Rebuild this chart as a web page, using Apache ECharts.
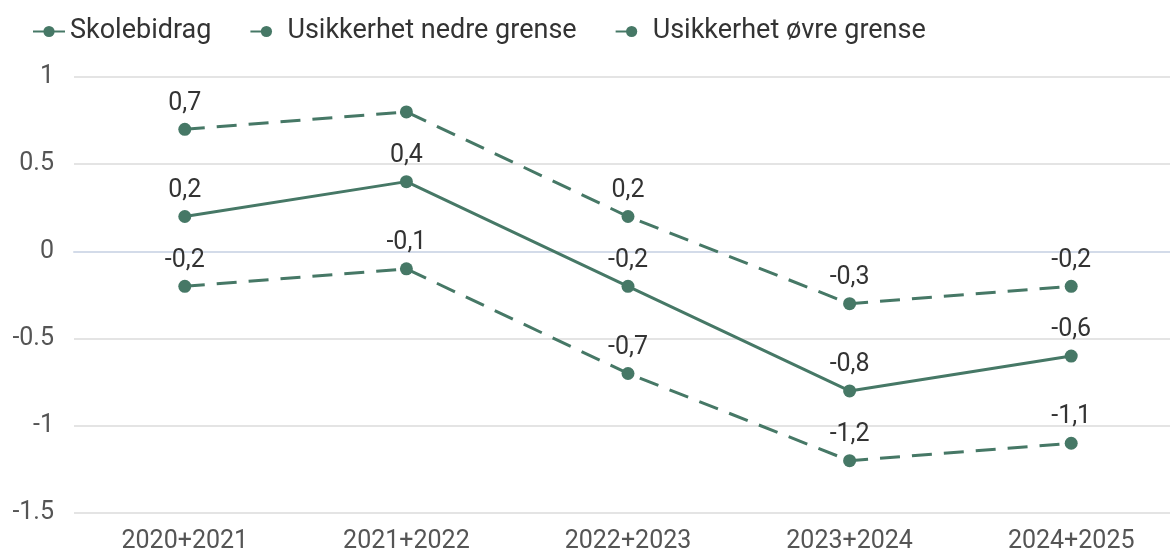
<!DOCTYPE html>
<html>
<head>
<meta charset="utf-8">
<script src="https://cdn.jsdelivr.net/npm/echarts@6/dist/echarts.min.js"></script>
<style>
  html, body { margin: 0; padding: 0; background: #fff; overflow: hidden; }
  #chart { width: 1182px; height: 554px; }
</style>
</head>
<body>
<div id="chart"></div>
<script>
// Periods (two-year school averages)
const categories = ['2020+2021', '2021+2022', '2022+2023', '2023+2024', '2024+2025'];

// School contribution and its uncertainty interval
const skolebidrag = [0.2, 0.4, -0.2, -0.8, -0.6];
const nedreGrense = [-0.2, -0.1, -0.7, -1.2, -1.1];
const ovreGrense = [0.7, 0.8, 0.2, -0.3, -0.2];
// The upper bound's value label is not shown for this period
const ovreSkjultEtikett = [1];

const seriesNames = ['Skolebidrag', 'Usikkerhet nedre grense', 'Usikkerhet øvre grense'];

const COLOR = '#467866';
const FONT = 'Roboto';
const fmt = v => String(v).replace('.', ',');

function makeSeries(name, values, dashed, hidden) {
  return {
    name: name,
    type: 'line',
    data: values.map((v, i) => hidden && hidden.includes(i)
      ? { value: v, label: { show: false } }
      : v),
    symbol: 'circle',
    symbolSize: 13,
    itemStyle: { color: COLOR },
    lineStyle: { color: COLOR, width: 3, type: dashed ? [20, 12] : 'solid' },
    label: {
      show: true,
      position: 'top',
      distance: 7,
      color: '#333',
      fontSize: 25,
      fontFamily: FONT,
      formatter: p => fmt(p.value)
    },
    emphasis: { disabled: true },
    animation: false
  };
}

const chart = echarts.init(document.getElementById('chart'));
chart.setOption({
  backgroundColor: '#fff',
  textStyle: { fontFamily: FONT },
  legend: {
    top: 13,
    left: 27,
    itemWidth: 32,
    itemHeight: 14,
    itemGap: 38,
    textStyle: { fontSize: 27, color: '#333', fontFamily: FONT },
    data: seriesNames
  },
  grid: { left: 74, right: 0, top: 77, bottom: 40, containLabel: false },
  xAxis: {
    type: 'category',
    data: categories,
    boundaryGap: true,
    axisTick: { show: false },
    axisLine: { show: true, lineStyle: { color: '#d3dbe9', width: 2 } },
    axisLabel: { color: '#555', fontSize: 25, fontFamily: FONT, margin: 16 }
  },
  yAxis: {
    type: 'value',
    min: -1.5,
    max: 1,
    interval: 0.5,
    axisLabel: { color: '#555', fontSize: 25, fontFamily: FONT, margin: 20 },
    splitLine: { lineStyle: { color: '#e4e4e4', width: 2 } },
    axisLine: { show: false },
    axisTick: { show: false }
  },
  series: [
    makeSeries(seriesNames[0], skolebidrag, false),
    makeSeries(seriesNames[1], nedreGrense, true),
    makeSeries(seriesNames[2], ovreGrense, true, ovreSkjultEtikett)
  ]
});
</script>
</body>
</html>
